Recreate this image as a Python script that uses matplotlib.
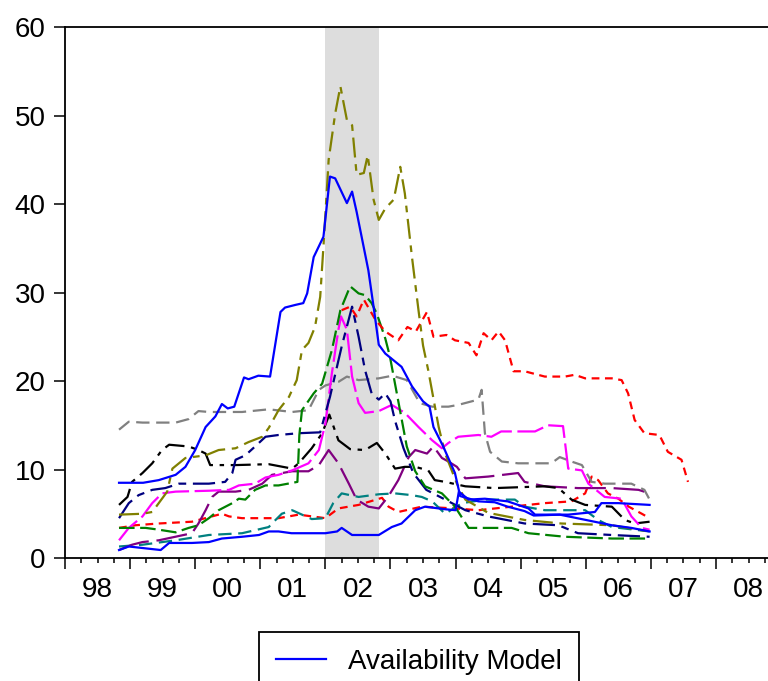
import numpy as np
import matplotlib
matplotlib.use("Agg")
import matplotlib.pyplot as plt
from matplotlib.lines import Line2D

plt.rcParams['font.family'] = ['Liberation Sans', 'DejaVu Sans']

# ---- data (decimal years, values) ----
avail_x = [1998.83, 1999.2, 1999.44, 1999.7, 1999.85, 2000.0, 2000.16, 2000.31, 2000.41, 2000.5,
           2000.6, 2000.75, 2000.82, 2000.97, 2001.15, 2001.31, 2001.38, 2001.54, 2001.66, 2001.72,
           2001.82, 2001.97, 2002.07, 2002.15, 2002.33, 2002.41, 2002.48, 2002.66, 2002.74, 2002.82,
           2002.92, 2003.02, 2003.17, 2003.33, 2003.5, 2003.6, 2003.66, 2003.81, 2003.99, 2004.07,
           2004.35, 2004.6, 2004.8, 2005.06, 2005.2, 2005.6, 2006.0, 2006.4, 2006.7, 2006.98]
avail_y = [8.5, 8.5, 8.8, 9.4, 10.3, 12.2, 14.8, 16.0, 17.4, 16.9,
           17.1, 20.4, 20.2, 20.6, 20.5, 27.8, 28.3, 28.6, 28.8, 29.9,
           34.0, 36.3, 43.1, 42.9, 40.1, 41.4, 39.1, 32.5, 28.4, 24.1,
           23.1, 22.5, 21.6, 19.4, 17.7, 17.1, 14.8, 12.6, 9.6, 7.0,
           6.4, 6.3, 5.8, 5.3, 4.8, 4.9, 4.3, 3.7, 3.4, 3.0]

bluelow_x = [1998.83, 1998.98, 1999.47, 1999.6, 1999.95, 2000.21, 2000.41, 2000.72, 2000.98, 2001.13,
             2001.28, 2001.48, 2002.0, 2002.18, 2002.25, 2002.41, 2002.82, 2003.02, 2003.17, 2003.38,
             2003.53, 2003.85, 2004.0, 2004.05, 2004.2, 2004.45, 2004.8, 2005.12, 2005.22, 2005.73,
             2006.14, 2006.24, 2006.5, 2006.98]
bluelow_y = [0.9, 1.3, 0.9, 1.7, 1.7, 1.8, 2.2, 2.4, 2.6, 3.0,
             3.0, 2.8, 2.8, 3.0, 3.4, 2.6, 2.6, 3.5, 3.9, 5.4,
             5.8, 5.5, 5.4, 7.5, 6.6, 6.7, 6.4, 5.6, 4.9, 4.9,
             5.2, 6.2, 6.2, 6.0]

olive_x = [1998.83, 1999.19, 1999.34, 1999.57, 1999.65, 1999.85, 2000.16, 2000.36, 2000.62, 2000.82,
           2001.03, 2001.13, 2001.28, 2001.44, 2001.56, 2001.64, 2001.74, 2001.84, 2001.92, 2001.97,
           2002.05, 2002.15, 2002.23, 2002.33, 2002.41, 2002.48, 2002.59, 2002.65, 2002.74, 2002.82,
           2002.92, 2003.05, 2003.15, 2003.22, 2003.33, 2003.43, 2003.5, 2003.58, 2003.74, 2003.84,
           2004.02, 2004.15, 2004.5, 2005.06, 2005.62, 2006.4, 2006.98]
olive_y = [4.9, 5.0, 5.2, 7.5, 10.1, 11.3, 11.6, 12.2, 12.4, 13.1,
           13.7, 14.7, 16.7, 18.2, 20.1, 23.5, 24.3, 26.1, 29.5, 35.2,
           45.0, 50.2, 53.3, 49.5, 48.9, 43.3, 43.5, 45.5, 40.5, 38.2,
           39.5, 40.5, 44.2, 41.2, 34.0, 28.0, 24.0, 21.2, 14.8, 11.8,
           8.4, 6.6, 5.1, 4.3, 3.9, 3.7, 3.0]

green_x = [1998.83, 1999.24, 1999.44, 1999.7, 1999.9, 2000.05, 2000.21, 2000.36, 2000.57, 2000.67,
           2000.77, 2000.92, 2001.08, 2001.28, 2001.57, 2001.6, 2001.64, 2001.82, 2001.95, 2002.1,
           2002.23, 2002.38, 2002.51, 2002.61, 2002.71, 2002.79, 2002.92, 2002.99, 2003.12, 2003.25,
           2003.38, 2003.53, 2003.79, 2003.99, 2004.2, 2004.86, 2005.12, 2005.68, 2006.4, 2006.98]
green_y = [3.4, 3.4, 3.2, 2.9, 3.4, 3.7, 4.5, 5.4, 6.2, 6.7,
           6.6, 7.7, 8.2, 8.2, 8.6, 13.9, 16.7, 18.6, 19.7, 23.5,
           28.0, 30.7, 29.9, 29.7, 28.8, 27.6, 24.8, 22.8, 17.7, 12.6,
           9.8, 8.1, 7.3, 5.8, 3.4, 3.4, 2.8, 2.4, 2.2, 2.2]

navy_x = [1998.83, 1998.98, 1999.13, 1999.34, 1999.54, 1999.75, 2000.21, 2000.46, 2000.57, 2000.62,
          2000.77, 2000.92, 2001.08, 2001.28, 2001.59, 2001.92, 2002.07, 2002.25, 2002.41, 2002.51,
          2002.61, 2002.71, 2002.82, 2002.92, 2003.0, 2003.07, 2003.2, 2003.35, 2003.55, 2003.84,
          2004.15, 2004.5, 2005.06, 2005.58, 2005.88, 2006.4, 2006.98]
navy_y = [4.5, 6.2, 7.1, 7.7, 7.9, 8.4, 8.4, 8.6, 9.6, 11.1,
          11.6, 12.6, 13.7, 13.9, 14.1, 14.2, 18.2, 23.9, 28.4, 25.0,
          21.2, 18.6, 17.9, 18.6, 17.7, 15.5, 12.4, 9.6, 7.7, 6.6,
          5.4, 4.7, 3.9, 3.7, 2.8, 2.6, 2.4]

magenta_x = [1998.83, 1998.98, 1999.19, 1999.34, 1999.49, 1999.7, 2000.21, 2000.52, 2000.67, 2000.92,
             2001.08, 2001.28, 2001.49, 2001.74, 2001.9, 2002.0, 2002.1, 2002.2, 2002.24, 2002.33,
             2002.41, 2002.51, 2002.61, 2002.82, 2003.02, 2003.22, 2003.43, 2003.64, 2003.79, 2003.89,
             2004.04, 2004.35, 2004.55, 2004.7, 2005.22, 2005.42, 2005.65, 2005.73, 2005.94, 2006.04,
             2006.29, 2006.55, 2006.7, 2006.86, 2006.98]
magenta_y = [2.0, 3.4, 4.7, 6.2, 7.3, 7.5, 7.6, 7.7, 8.2, 8.4,
             9.1, 9.4, 9.9, 10.7, 12.2, 15.2, 20.9, 25.8, 27.3, 25.8,
             20.5, 17.5, 16.4, 16.6, 17.3, 16.4, 14.8, 13.3, 12.4, 13.0,
             13.7, 13.9, 13.7, 14.3, 14.3, 15.0, 14.9, 10.1, 9.9, 8.4,
             6.9, 6.7, 4.7, 3.4, 3.2]

gray_x = [1998.83, 1998.98, 1999.19, 1999.7, 1999.9, 2000.05, 2000.21, 2000.72, 2001.13, 2001.49,
          2001.74, 2001.9, 2002.0, 2002.2, 2002.33, 2002.51, 2002.82, 2003.03, 2003.25, 2003.45,
          2003.64, 2003.89, 2004.04, 2004.35, 2004.4, 2004.45, 2004.53, 2004.71, 2004.96, 2005.47,
          2005.6, 2005.78, 2005.94, 2006.09, 2006.29, 2006.7, 2006.9, 2006.98]
gray_y = [14.5, 15.4, 15.3, 15.3, 15.7, 16.6, 16.5, 16.5, 16.8, 16.5,
          16.7, 19.0, 19.5, 19.9, 20.5, 20.1, 20.3, 20.6, 20.1, 17.5,
          17.1, 17.1, 17.3, 17.9, 19.0, 14.1, 12.0, 10.9, 10.7, 10.7,
          11.4, 10.9, 10.5, 8.6, 8.4, 8.4, 7.7, 6.6]

black_x = [1998.83, 1998.96, 1999.03, 1999.19, 1999.34, 1999.49, 1999.6, 1999.9, 2000.05, 2000.16,
           2000.23, 2000.62, 2001.13, 2001.49, 2001.59, 2001.79, 2001.95, 2002.06, 2002.2, 2002.38,
           2002.61, 2002.79, 2002.92, 2003.07, 2003.22, 2003.38, 2003.58, 2003.68, 2003.84, 2004.15,
           2004.6, 2005.37, 2005.58, 2005.78, 2005.99, 2006.4, 2006.6, 2006.75, 2006.98]
black_y = [6.0, 6.9, 8.6, 9.6, 10.7, 12.2, 12.8, 12.6, 12.2, 11.8,
           10.5, 10.5, 10.6, 10.1, 10.7, 12.4, 14.1, 16.2, 13.3, 12.3,
           12.2, 13.0, 11.8, 10.1, 10.3, 10.3, 9.9, 8.8, 8.6, 8.1,
           7.9, 8.1, 7.9, 6.6, 6.0, 5.8, 4.3, 3.9, 4.1]

purple_x = [1998.83, 1999.03, 1999.19, 1999.44, 1999.95, 2000.05, 2000.16, 2000.26, 2000.36, 2000.62,
            2000.82, 2001.03, 2001.18, 2001.49, 2001.74, 2001.9, 2002.05, 2002.2, 2002.36, 2002.48,
            2002.66, 2002.82, 2002.97, 2003.12, 2003.28, 2003.38, 2003.56, 2003.66, 2003.79, 2003.89,
            2004.02, 2004.15, 2004.5, 2004.96, 2005.06, 2005.37, 2005.88, 2006.4, 2006.81, 2006.98]
purple_y = [0.9, 1.5, 1.8, 2.0, 2.8, 3.9, 5.4, 6.9, 7.5, 7.5,
            7.7, 8.4, 9.4, 9.8, 9.8, 10.5, 12.2, 10.7, 8.4, 6.6,
            5.8, 5.6, 7.0, 8.8, 11.4, 12.2, 11.8, 12.6, 11.3, 10.9,
            10.3, 9.0, 9.2, 9.6, 8.6, 8.1, 7.9, 7.9, 7.7, 7.3]

teal_x = [1998.83, 1999.19, 1999.7, 2000.21, 2000.72, 2001.13, 2001.18, 2001.33, 2001.49, 2001.64,
          2001.79, 2002.0, 2002.12, 2002.25, 2002.51, 2002.82, 2003.07, 2003.33, 2003.48, 2003.64,
          2003.84, 2004.1, 2004.45, 2004.91, 2005.06, 2005.37, 2005.99, 2006.19, 2006.4, 2006.98]
teal_y = [1.3, 1.5, 2.0, 2.6, 2.8, 3.5, 3.9, 5.0, 5.4, 4.9,
          4.4, 4.5, 6.2, 7.3, 6.9, 7.2, 7.3, 7.1, 6.9, 6.4,
          5.0, 6.2, 6.6, 6.6, 5.8, 5.4, 5.4, 4.3, 3.5, 3.0]

redlow_x = [1998.83, 1999.08, 1999.44, 1999.95, 2000.41, 2000.52, 2000.72, 2001.13, 2001.28, 2001.59,
            2002.0, 2002.2, 2002.51, 2002.87, 2002.97, 2003.12, 2003.48, 2003.99, 2004.35, 2004.86,
            2005.37, 2005.78, 2005.99, 2006.09, 2006.19, 2006.34, 2006.5, 2006.66, 2006.86, 2006.98]
redlow_y = [3.4, 3.7, 3.9, 4.1, 5.0, 4.7, 4.5, 4.5, 4.5, 4.9,
            4.5, 5.6, 6.0, 6.8, 5.8, 5.2, 5.8, 5.6, 5.4, 5.8,
            6.2, 6.4, 7.3, 9.2, 8.8, 7.3, 6.7, 5.8, 5.0, 4.5]

redhigh_x = [2002.25, 2002.38, 2002.48, 2002.59, 2002.77, 2002.92, 2003.12, 2003.26, 2003.39, 2003.56,
             2003.66, 2003.86, 2003.99, 2004.2, 2004.32, 2004.43, 2004.55, 2004.66, 2004.76, 2004.89,
             2005.06, 2005.37, 2005.68, 2005.83, 2005.99, 2006.4, 2006.55, 2006.65, 2006.75, 2006.9,
             2007.13, 2007.26, 2007.47, 2007.57]
redhigh_y = [28.0, 28.4, 27.3, 29.2, 26.9, 25.6, 24.6, 26.1, 25.6, 27.8,
             25.0, 25.2, 24.6, 24.3, 22.9, 25.4, 24.6, 25.6, 24.6, 21.1,
             21.1, 20.5, 20.5, 20.7, 20.3, 20.3, 20.1, 18.6, 15.6, 14.1,
             13.9, 12.0, 11.1, 8.6]

shade_start, shade_end = 2002.0, 2002.83
year_labels = ['98', '99', '00', '01', '02', '03', '04', '05', '06', '07', '08']

# ---- figure ----
W, H = 768, 681
fig = plt.figure(figsize=(W / 100, H / 100), dpi=100)
ax_left, ax_bottom, ax_top = 65, 558, 27
px_per_year = 65.1
ax = fig.add_axes([ax_left / W, 1 - ax_bottom / H, 11 * px_per_year / W, (ax_bottom - ax_top) / H])

ax.axvspan(shade_start, shade_end, color='#dddddd', lw=0, zorder=0)

lw = 1.6
ax.plot(redlow_x, redlow_y, color='#ff0000', lw=lw, ls=(0, (3.5, 2.5)))
ax.plot(teal_x, teal_y, color='#008080', lw=lw, ls=(0, (6, 3)))
ax.plot(purple_x, purple_y, color='#800080', lw=lw, ls=(0, (14, 3.5)))
ax.plot(black_x, black_y, color='black', lw=lw, ls=(0, (9, 3, 2, 3)))
ax.plot(gray_x, gray_y, color='#808080', lw=lw, ls=(0, (6, 3)))
ax.plot(magenta_x, magenta_y, color='#ff00ff', lw=lw, ls=(0, (12, 2.5)))
ax.plot(navy_x, navy_y, color='#000080', lw=lw, ls=(0, (10, 3, 3.5, 3)))
ax.plot(green_x, green_y, color='#008000', lw=lw, ls=(0, (7, 2.5)))
ax.plot(redhigh_x, redhigh_y, color='#ff0000', lw=lw, ls=(0, (3.5, 2.5)))
ax.plot(olive_x, olive_y, color='#808000', lw=lw, ls=(0, (9, 3, 3, 3)))
ax.plot(bluelow_x, bluelow_y, color='#0000ff', lw=lw)
ax.plot(avail_x, avail_y, color='#0000ff', lw=lw)

ax.set_xlim(1998, 2009)
ax.set_ylim(0, 60)
ax.set_yticks(np.arange(0, 61, 10))
ax.set_xticks(np.arange(1998, 2010))
ax.set_xticklabels([])
ax.set_xticks(np.arange(1998, 2009.01, 0.25), minor=True)
ax.tick_params(axis='y', direction='out', length=8, width=1.1, labelsize=20, pad=6)
ax.tick_params(axis='x', which='major', direction='out', length=8, width=1.1)
ax.tick_params(axis='x', which='minor', direction='out', length=3.5, width=1.1)
for s in ax.spines.values():
    s.set_linewidth(1.3)

for i, lab in enumerate(year_labels):
    ax.text(1998 + i + 0.5, -(590 - ax_bottom) / (ax_bottom - ax_top), lab,
            transform=ax.get_xaxis_transform(), ha='center', va='center',
            fontsize=20, clip_on=False)

handle = Line2D([], [], color='#0000ff', lw=lw)
leg = fig.legend([handle], ['Availability Model'], loc='upper center',
                 bbox_to_anchor=(419 / W, 1 - 632 / H), fontsize=20,
                 fancybox=False, edgecolor='black', framealpha=1,
                 handlelength=1.8, borderpad=0.6, borderaxespad=0)
leg.get_frame().set_linewidth(1.3)

fig.savefig('out.png', dpi=100)
